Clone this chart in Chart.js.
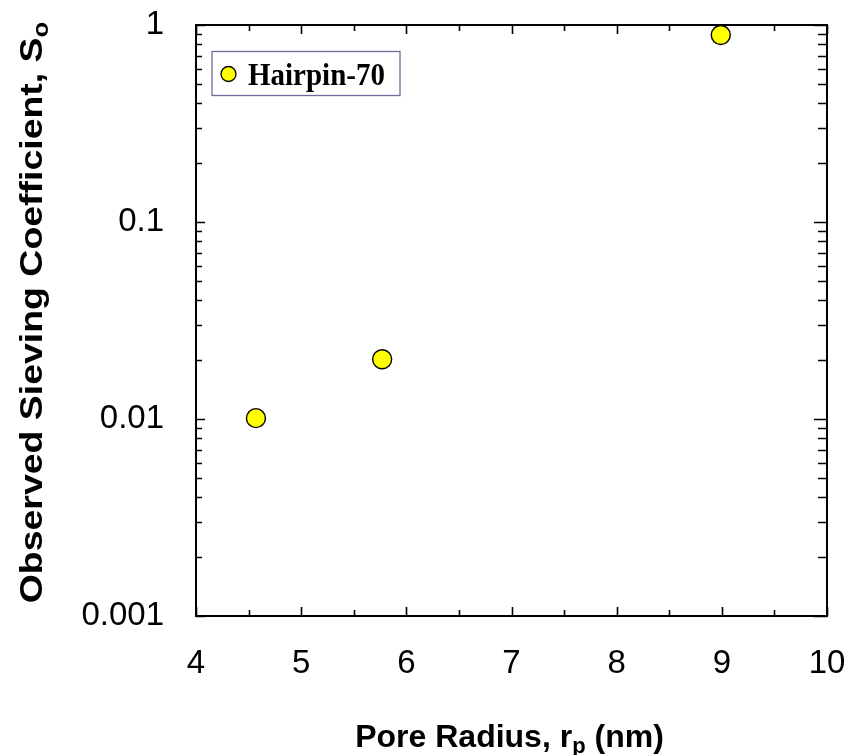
<!DOCTYPE html>
<html>
<head>
<meta charset="utf-8">
<script src="https://cdn.jsdelivr.net/npm/chart.js@4.4.1/dist/chart.umd.min.js"></script>
<style>
  html, body { margin: 0; padding: 0; background: #fff; }
  #wrap { width: 850px; height: 755px; }
</style>
</head>
<body>
<div id="wrap"><canvas id="c" width="850" height="755"></canvas></div>
<script>
// Sieving data: pore radius (nm) vs observed sieving coefficient
const poreRadius = [4.57, 5.77, 8.99];
const sievingCoeff = [0.0101, 0.0201, 0.89];
const seriesName = 'Hairpin-70';

// Axis ticks
const xTicks = [4, 5, 6, 7, 8, 9, 10];
const yTicks = [0.001, 0.01, 0.1, 1];
const yTickLabels = ['0.001', '0.01', '0.1', '1'];

// Plot frame in canvas pixels
const AREA = { left: 196, top: 25, right: 827, bottom: 616 };

const TICK_FONT = '"Liberation Sans", Arial, sans-serif';

// Frame and inward ticks on all four sides (under the markers)
const framePlugin = {
  id: 'frame',
  beforeDatasetsDraw(chart) {
    const { ctx, chartArea: a, scales: { x, y } } = chart;
    ctx.save();
    ctx.strokeStyle = '#000';
    ctx.lineCap = 'butt';

    ctx.lineWidth = 1.6;
    ctx.beginPath();
    for (let v = 4; v <= 10.001; v += 0.5) {
      const px = Math.round(x.getPixelForValue(v)) + 0.5;
      const major = Math.abs(v - Math.round(v)) < 1e-6;
      const len = major ? 9 : 6;
      ctx.moveTo(px, a.bottom); ctx.lineTo(px, a.bottom - len);
      ctx.moveTo(px, a.top); ctx.lineTo(px, a.top + len);
    }
    for (let e = -3; e <= 0; e++) {
      for (let m = 1; m <= 9; m++) {
        const v = m * Math.pow(10, e);
        if (v > 1.0001) break;
        const py = Math.round(y.getPixelForValue(v)) + 0.5;
        const major = m === 1;
        ctx.moveTo(a.left, py); ctx.lineTo(a.left + (major ? 9 : 6), py);
        ctx.moveTo(a.right, py); ctx.lineTo(a.right - (major ? 13 : 9), py);
      }
    }
    ctx.stroke();

    ctx.lineWidth = 2;
    ctx.strokeRect(a.left, a.top, a.right - a.left, a.bottom - a.top);
    ctx.restore();
  },
  // Legend box and axis titles with subscripts
  afterDatasetsDraw(chart) {
    const { ctx, chartArea: a } = chart;
    ctx.save();

    const lx = a.left + 16, ly = a.top + 26.5;
    ctx.lineWidth = 1.3;
    ctx.strokeStyle = '#6e6e9e';
    ctx.strokeRect(lx, ly, 188, 44);
    ctx.beginPath();
    ctx.arc(lx + 16.5, ly + 22.5, 7.5, 0, Math.PI * 2);
    ctx.fillStyle = '#ffff00';
    ctx.fill();
    ctx.strokeStyle = '#000';
    ctx.lineWidth = 1.3;
    ctx.stroke();
    ctx.save();
    ctx.translate(lx + 36, ly + 33.5);
    ctx.scale(1, 1.1);
    ctx.fillStyle = '#000';
    ctx.font = 'bold 29px "Liberation Serif", "Times New Roman", serif';
    ctx.textBaseline = 'alphabetic';
    ctx.textAlign = 'left';
    ctx.fillText(seriesName, 0, 0);
    ctx.restore();

    const big = 'bold 32px "Liberation Sans", Arial, sans-serif';
    const small = 'bold 22px "Liberation Sans", Arial, sans-serif';
    const xParts = [['Pore Radius, r', big, 0], ['p', small, 6], [' (nm)', big, 0]];
    drawParts(ctx, xParts, (a.left + a.right) / 2 - 2, 747, 1);

    ctx.save();
    ctx.translate(42, (a.top + a.bottom) / 2 - 8);
    ctx.rotate(-Math.PI / 2);
    const yParts = [['Observed Sieving Coefficient, S', big, 0], ['o', small, 6]];
    drawParts(ctx, yParts, 0, 0, 1.17);
    ctx.restore();

    ctx.restore();
  }
};

// Draws a run of text pieces centred on cx, optionally stretched along the baseline
function drawParts(ctx, parts, cx, baseY, stretch) {
  let total = 0;
  for (const [t, f] of parts) { ctx.font = f; total += ctx.measureText(t).width; }
  ctx.save();
  ctx.translate(cx, baseY);
  ctx.scale(stretch, 1);
  let xx = -total / 2;
  ctx.textAlign = 'left';
  ctx.textBaseline = 'alphabetic';
  ctx.fillStyle = '#000';
  for (const [t, f, dy] of parts) {
    ctx.font = f;
    ctx.fillText(t, xx, dy);
    xx += ctx.measureText(t).width;
  }
  ctx.restore();
}

const chart = new Chart(document.getElementById('c'), {
  type: 'scatter',
  data: {
    datasets: [{
      label: seriesName,
      data: poreRadius.map((r, i) => ({ x: r, y: sievingCoeff[i] })),
      backgroundColor: '#ffff00',
      borderColor: '#000',
      borderWidth: 1.4,
      pointRadius: 9.5,
      pointHoverRadius: 9.5
    }]
  },
  options: {
    responsive: false,
    animation: false,
    events: [],
    layout: { padding: { left: 0, top: AREA.top, right: 850 - AREA.right, bottom: 0 } },
    plugins: { legend: { display: false }, tooltip: { enabled: false } },
    scales: {
      x: {
        type: 'linear', min: 4, max: 10,
        afterBuildTicks: s => { s.ticks = xTicks.map(v => ({ value: v })); },
        afterFit: s => { s.height = 755 - AREA.bottom; s.paddingLeft = 0; s.paddingRight = 0; },
        grid: { display: false, drawTicks: false },
        border: { display: false },
        ticks: { color: '#000', padding: 28, maxRotation: 0, font: { family: TICK_FONT, size: 33 } }
      },
      y: {
        type: 'logarithmic', min: 0.001, max: 1,
        afterBuildTicks: s => { s.ticks = yTicks.map(v => ({ value: v })); },
        afterFit: s => { s.width = AREA.left; s.paddingTop = 0; s.paddingBottom = 0; },
        grid: { display: false, drawTicks: false },
        border: { display: false },
        ticks: {
          color: '#000', padding: 32,
          font: { family: TICK_FONT, size: 33 },
          callback: v => { const i = yTicks.findIndex(t => Math.abs(t - v) / t < 1e-6); return i >= 0 ? yTickLabels[i] : ''; }
        }
      }
    }
  },
  plugins: [framePlugin]
});
</script>
</body>
</html>
